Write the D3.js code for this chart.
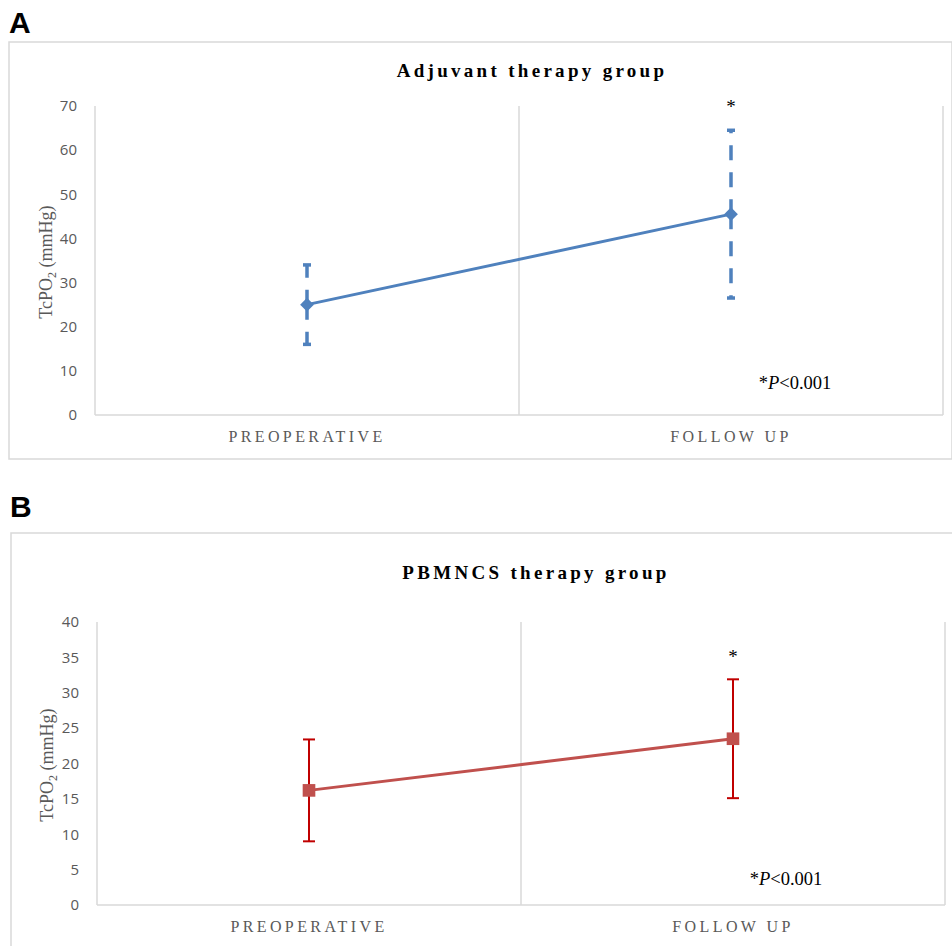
<!DOCTYPE html>
<html><head><meta charset="utf-8">
<script src="https://cdn.jsdelivr.net/npm/d3@7"></script>
<style>
html,body{margin:0;padding:0;background:#fff;}
svg{display:block;}
</style></head>
<body>
<svg id="chart" width="952" height="946"></svg>
<script>
// ---- data ----
const categories = ["PREOPERATIVE", "FOLLOW UP"];
const adjuvantMean = [25, 45.5];
const adjuvantErr = [9, 19];
const adjuvantTicks = [0, 10, 20, 30, 40, 50, 60, 70];
const pbmncsMean = [16.2, 23.5];
const pbmncsErr = [7.2, 8.4];
const pbmncsTicks = [0, 5, 10, 15, 20, 25, 30, 35, 40];

const svg = d3.select("#chart");
const grid = "#d9d9d9";
const txt = "#595959";
const serif = "'Liberation Serif','Times New Roman',serif";
const sans = "'Open Sans','Liberation Sans',sans-serif";

function panel(cfg) {
  const g = svg.append("g");
  g.append("text").attr("x", cfg.letterX).attr("y", cfg.letterY)
    .attr("font-family", "'Liberation Sans',Arial,sans-serif").attr("font-weight", "bold")
    .attr("font-size", 30).attr("fill", "#000").text(cfg.letter);
  g.append("rect").attr("x", cfg.box[0]).attr("y", cfg.box[1])
    .attr("width", cfg.box[2]).attr("height", cfg.box[3])
    .attr("fill", "#fff").attr("stroke", grid).attr("stroke-width", 1.5);

  const x = d3.scaleBand().domain(categories).range([cfg.left, cfg.right]).padding(0);
  const y = d3.scaleLinear().domain([0, d3.max(cfg.ticks)]).range([cfg.bottom, cfg.top]);

  const seps = [cfg.left].concat(categories.map(c => x(c) + x.bandwidth()));
  g.selectAll(".sep").data(seps).enter().append("line")
    .attr("x1", d => d).attr("x2", d => d)
    .attr("y1", cfg.top).attr("y2", cfg.bottom)
    .attr("stroke", grid).attr("stroke-width", 1.5);
  g.append("line").attr("x1", cfg.left).attr("x2", cfg.right)
    .attr("y1", cfg.bottom).attr("y2", cfg.bottom)
    .attr("stroke", grid).attr("stroke-width", 1.5);

  const ya = g.append("g").attr("transform", `translate(${cfg.left},0)`)
    .call(d3.axisLeft(y).tickValues(cfg.ticks).tickSize(0).tickPadding(18));
  ya.select(".domain").remove();
  ya.selectAll("text").attr("font-family", sans).attr("font-size", 15).attr("fill", txt);

  const xa = g.append("g").attr("transform", `translate(0,${cfg.bottom})`)
    .call(d3.axisBottom(x).tickSize(0).tickPadding(cfg.xPad));
  xa.select(".domain").remove();
  xa.selectAll("text").attr("font-family", serif).attr("font-size", 16)
    .attr("fill", txt).attr("letter-spacing", "3.4px");

  g.append("text").attr("x", cfg.titleX).attr("y", cfg.titleY)
    .attr("text-anchor", "middle").attr("font-family", serif).attr("font-weight", "bold")
    .attr("font-size", 19).attr("letter-spacing", "3.3px").attr("fill", "#000").text(cfg.title);

  const yt = g.append("text").attr("transform", `translate(${cfg.yTitleX},${cfg.yTitleY}) rotate(-90)`)
    .attr("text-anchor", "middle").attr("font-family", serif).attr("font-size", 18).attr("fill", txt);
  yt.append("tspan").text("TcPO");
  yt.append("tspan").attr("font-size", 12).attr("dy", 4).text("2");
  yt.append("tspan").attr("dy", -4).text(" (mmHg)");

  const pts = categories.map((c, i) => ({c, m: cfg.mean[i], e: cfg.err[i]}));
  const cx = d => x(d.c) + x.bandwidth() / 2;

  pts.forEach(d => {
    [1, -1].forEach(s => {
      g.append("line").attr("x1", cx(d)).attr("x2", cx(d))
        .attr("y1", y(d.m)).attr("y2", y(d.m + s * d.e))
        .attr("stroke", cfg.errColor).attr("stroke-width", cfg.errWidth)
        .attr("stroke-dasharray", cfg.dash || null);
      g.append("line").attr("x1", cx(d) - cfg.cap).attr("x2", cx(d) + cfg.cap)
        .attr("y1", y(d.m + s * d.e)).attr("y2", y(d.m + s * d.e))
        .attr("stroke", cfg.errColor).attr("stroke-width", cfg.errWidth);
    });
  });

  g.append("path").datum(pts)
    .attr("d", d3.line().x(cx).y(d => y(d.m)))
    .attr("fill", "none").attr("stroke", cfg.color).attr("stroke-width", 3);

  g.selectAll(".mk").data(pts).enter().append("path")
    .attr("transform", d => `translate(${cx(d)},${y(d.m)})`)
    .attr("d", d3.symbol().type(cfg.symbol).size(cfg.symSize))
    .attr("fill", cfg.color);

  const fu = pts[1];
  g.append("text").attr("x", cx(fu)).attr("y", cfg.starY)
    .attr("text-anchor", "middle").attr("font-family", serif).attr("font-size", 19)
    .attr("fill", "#000").text("*");

  const pt = g.append("text").attr("x", cfg.pX).attr("y", cfg.pY)
    .attr("text-anchor", "middle").attr("font-family", serif).attr("font-size", 18.5).attr("fill", "#000");
  pt.append("tspan").text("*");
  pt.append("tspan").attr("font-style", "italic").text("P");
  pt.append("tspan").text("<0.001");
}

panel({
  letter: "A", letterX: 9, letterY: 33,
  box: [9, 42, 943, 417],
  left: 95, right: 943, top: 106, bottom: 415,
  ticks: adjuvantTicks, mean: adjuvantMean, err: adjuvantErr,
  xPad: 16,
  title: "Adjuvant therapy group", titleX: 532, titleY: 77,
  yTitleX: 52, yTitleY: 262,
  color: "#4f81bd", errColor: "#4f81bd", errWidth: 3.5, dash: "15,12", cap: 4,
  symbol: d3.symbolDiamond2, symSize: 120,
  starY: 113, pX: 795, pY: 389
});

panel({
  letter: "B", letterX: 10, letterY: 517,
  box: [11, 533, 950, 430],
  left: 97, right: 945, top: 622, bottom: 905,
  ticks: pbmncsTicks, mean: pbmncsMean, err: pbmncsErr,
  xPad: 16,
  title: "PBMNCS therapy group", titleX: 536, titleY: 579,
  yTitleX: 53, yTitleY: 765,
  color: "#c0504d", errColor: "#c00000", errWidth: 2, dash: null, cap: 6,
  symbol: d3.symbolSquare, symSize: 160,
  starY: 663, pX: 786, pY: 885
});
</script>
</body></html>
